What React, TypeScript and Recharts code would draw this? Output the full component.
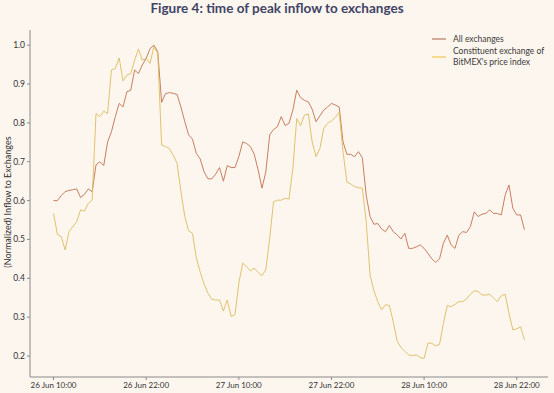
import React from 'react';
import { LineChart, Line, XAxis, YAxis, Label } from 'recharts';

// half-hourly steps, 0 = 26 Jun 10:00
const hours = Array.from({ length: 123 }, (_, i) => i / 2);

const allExchanges = [
  0.6, 0.6, 0.613, 0.623, 0.626, 0.628, 0.63, 0.608, 0.616, 0.63, 0.623, 0.692, 0.7, 0.69, 0.751, 0.777,
  0.816, 0.85, 0.841, 0.88, 0.884, 0.936, 0.927, 0.949, 0.966, 0.991, 1.0, 0.983, 0.853, 0.875, 0.878, 0.876,
  0.873, 0.841, 0.803, 0.769, 0.758, 0.721, 0.707, 0.674, 0.656, 0.656, 0.668, 0.685, 0.65, 0.69, 0.685, 0.685,
  0.713, 0.751, 0.747, 0.739, 0.719, 0.679, 0.632, 0.674, 0.769, 0.783, 0.79, 0.816, 0.793, 0.799, 0.833, 0.884,
  0.865, 0.858, 0.854, 0.835, 0.803, 0.818, 0.833, 0.841, 0.85, 0.846, 0.841, 0.751, 0.719, 0.719, 0.713, 0.726,
  0.71, 0.614, 0.559, 0.539, 0.541, 0.527, 0.52, 0.536, 0.52, 0.512, 0.501, 0.516, 0.477, 0.477, 0.481, 0.486,
  0.477, 0.464, 0.45, 0.441, 0.45, 0.49, 0.511, 0.486, 0.477, 0.511, 0.52, 0.518, 0.533, 0.571, 0.559, 0.565,
  0.567, 0.576, 0.567, 0.567, 0.563, 0.614, 0.64, 0.58, 0.563, 0.563, 0.525,
];

const bitmexConstituent = [
  0.567, 0.513, 0.507, 0.473, 0.52, 0.533, 0.546, 0.576, 0.573, 0.593, 0.601, 0.824, 0.816, 0.83, 0.824, 0.936,
  0.94, 0.967, 0.908, 0.923, 0.927, 0.961, 0.99, 0.961, 0.966, 0.953, 0.996, 0.979, 0.743, 0.739, 0.734, 0.717,
  0.696, 0.623, 0.559, 0.522, 0.516, 0.452, 0.416, 0.385, 0.362, 0.346, 0.344, 0.344, 0.316, 0.344, 0.302, 0.306,
  0.387, 0.439, 0.43, 0.419, 0.426, 0.415, 0.407, 0.422, 0.503, 0.597, 0.601, 0.601, 0.606, 0.604, 0.683, 0.811,
  0.793, 0.82, 0.823, 0.751, 0.713, 0.734, 0.786, 0.799, 0.805, 0.814, 0.827, 0.726, 0.647, 0.643, 0.636, 0.633,
  0.632, 0.546, 0.409, 0.368, 0.34, 0.319, 0.332, 0.33, 0.289, 0.239, 0.222, 0.212, 0.203, 0.201, 0.203, 0.196,
  0.194, 0.233, 0.233, 0.226, 0.23, 0.284, 0.33, 0.327, 0.333, 0.34, 0.34, 0.347, 0.359, 0.368, 0.366, 0.357,
  0.357, 0.359, 0.349, 0.34, 0.355, 0.359, 0.31, 0.267, 0.27, 0.275, 0.241,
];

const xTicks = [0, 12, 24, 36, 48, 60];
const xTickLabels = ['26 Jun 10:00', '26 Jun 22:00', '27 Jun 10:00', '27 Jun 22:00', '28 Jun 10:00', '28 Jun 22:00'];
const yTicks = [0.2, 0.3, 0.4, 0.5, 0.6, 0.7, 0.8, 0.9, 1.0];

const data = hours.map((t, i) => ({ t, all: allExchanges[i], bitmex: bitmexConstituent[i] }));

const BG = '#fdf6ef';
const FONT = 'Lato, "Noto Sans", sans-serif';
const ALL_COLOR = '#c2704f';
const BITMEX_COLOR = '#dcbc5c';

function ChartLegend() {
  const text = { fontSize: 8.5, fill: '#3a3a3a', fontFamily: FONT };
  return (
    <svg width={124} height={46} style={{ position: 'absolute', top: 30, left: 430 }}>
      <line x1={2} x2={16} y1={9} y2={9} stroke='#b77b62' strokeWidth={1.2} />
      <text x={23} y={12} {...text}>All exchanges</text>
      <line x1={2} x2={16} y1={27} y2={27} stroke='#f0c850' strokeWidth={1.2} />
      <text x={23} y={24} {...text}>Constituent exchange of</text>
      <text x={23} y={35} {...text}>BitMEX's price index</text>
    </svg>
  );
}

export default function App() {
  return (
    <div style={{ position: 'absolute', left: 0, top: 0, width: 554, height: 393, background: BG, fontFamily: FONT }}>
      <div
        style={{
          position: 'absolute',
          top: 0,
          width: 554,
          textAlign: 'center',
          fontSize: 13.5,
          fontWeight: 700,
          color: '#3f4466',
          lineHeight: '17px',
        }}
      >
        Figure 4: time of peak inflow to exchanges
      </div>
      <LineChart width={554} height={393} data={data} margin={{ top: 30, right: 6, bottom: 0, left: 0 }}>
        <XAxis
          dataKey='t'
          type='number'
          domain={[-3.05, 64.05]}
          ticks={xTicks}
          tickFormatter={(v: number) => xTickLabels[xTicks.indexOf(v)]}
          height={16}
          stroke='#8a8a8a'
          tickSize={3}
          tick={{ fontSize: 8, fill: '#333', fontFamily: FONT }}
          interval={0}
        />
        <YAxis
          type='number'
          domain={[0.146, 1.039]}
          ticks={yTicks}
          tickFormatter={(v: number) => v.toFixed(1)}
          width={30}
          stroke='#8a8a8a'
          tickSize={3}
          tick={{ fontSize: 8.5, fill: '#333', fontFamily: FONT }}
          allowDataOverflow
        >
          <Label
            content={() => (
              <text
                transform='translate(9,202) rotate(-90)'
                textAnchor='middle'
                dominantBaseline='middle'
                style={{ fontSize: 9, fill: '#333', fontFamily: FONT }}
              >
                (Normalized) Inflow to Exchanges
              </text>
            )}
          />
        </YAxis>
        <Line
          type='linear'
          dataKey='all'
          stroke={ALL_COLOR}
          strokeWidth={0.9}
          dot={false}
          isAnimationActive={false}
        />
        <Line
          type='linear'
          dataKey='bitmex'
          stroke={BITMEX_COLOR}
          strokeWidth={0.9}
          dot={false}
          isAnimationActive={false}
        />
      </LineChart>
      <ChartLegend />
    </div>
  );
}
